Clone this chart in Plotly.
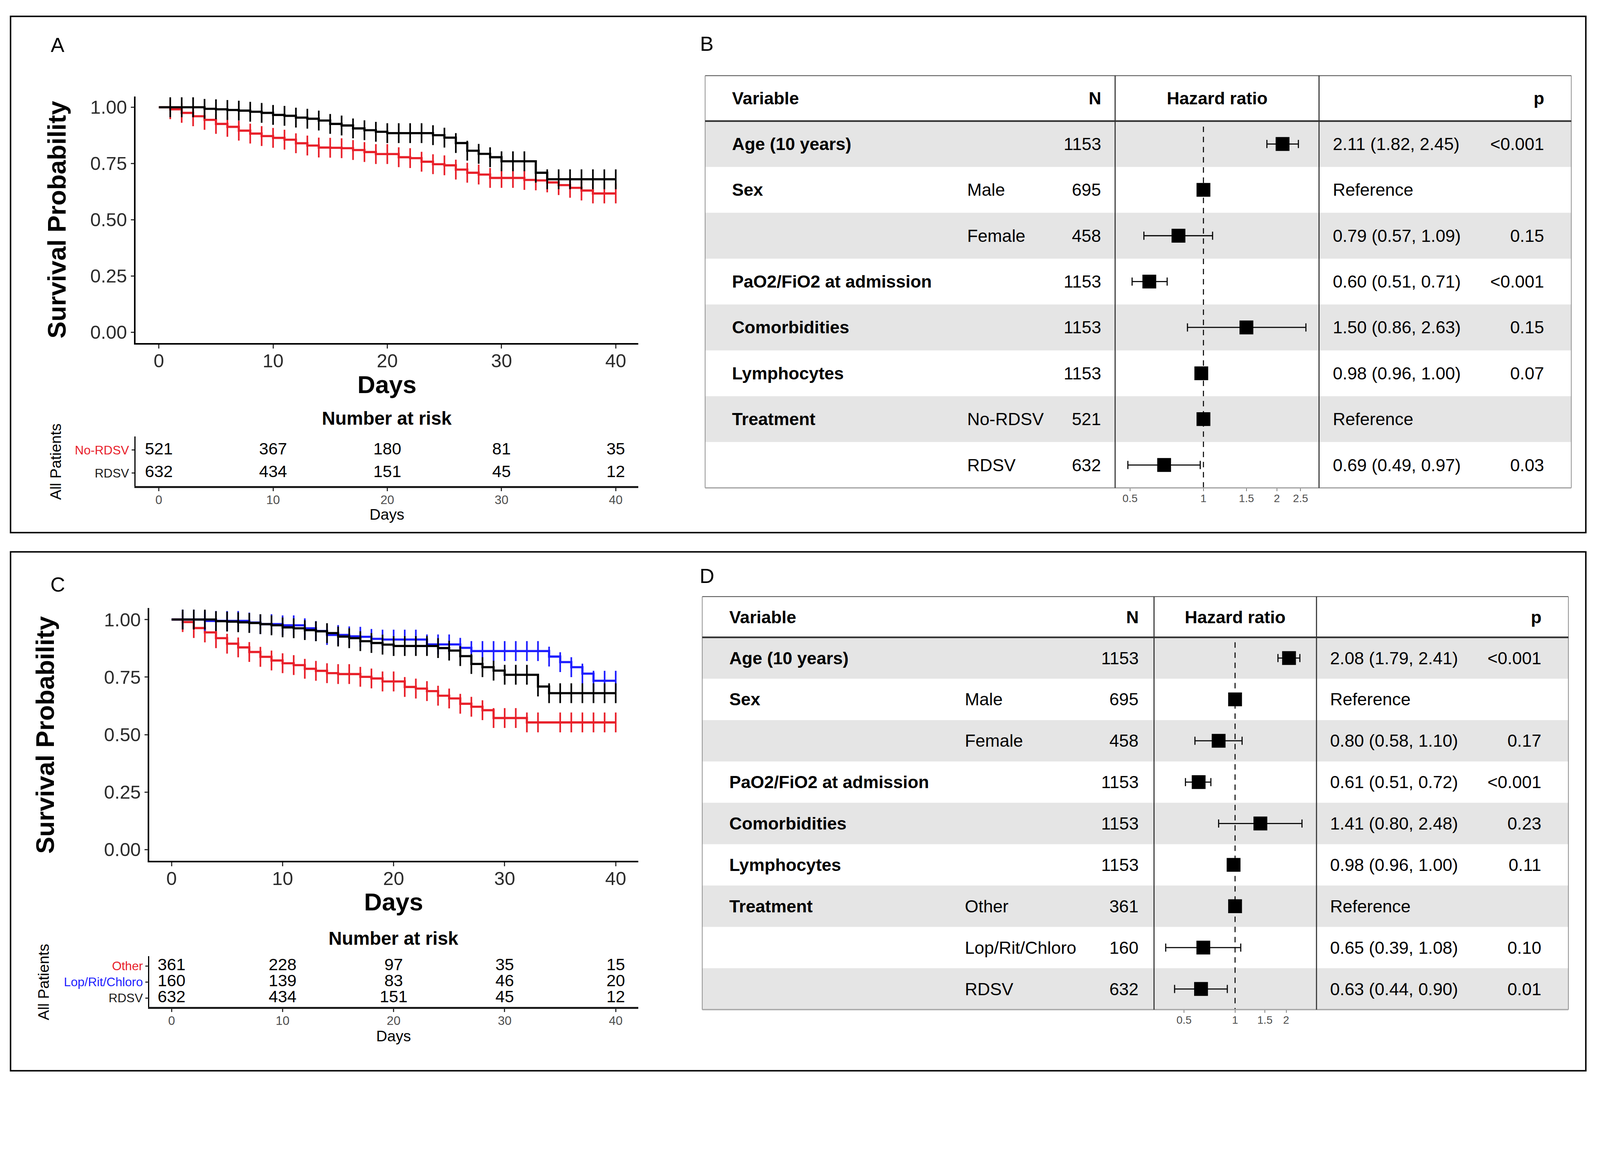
import plotly.graph_objects as go

# Picture is 4402x2979 px; the page is laid out at 4096 CSS px wide with an 8px body margin.
IMG_W, IMG_H = 4402, 2979
S = 4096 / IMG_W          # CSS px per picture px
OFF = 8                   # default body margin (CSS px)
FW, FH = 4080, 2756       # figure size in CSS px

FONT = "Liberation Sans, Arial, Helvetica, sans-serif"
RED = "#E8202A"
BLUE = "#1E1EFF"
BLACK = "#000000"

# ---------------- Kaplan-Meier data (value holding from day d to d+1) ----------------
days = [0, 1, 2, 3, 4, 5, 6, 7, 8, 9, 10, 11, 12, 13, 14, 15, 16, 17, 18, 19, 20,
        21, 22, 23, 24, 25, 26, 27, 28, 29, 30, 31, 32, 33, 34, 35, 36, 37, 38, 39, 40]

surv_rdsv = [1.000, 1.000, 1.000, 1.000, 0.993, 0.991, 0.988, 0.985, 0.980, 0.975,
             0.966, 0.962, 0.954, 0.949, 0.941, 0.926, 0.919, 0.906, 0.898, 0.891,
             0.885, 0.885, 0.885, 0.885, 0.876, 0.865, 0.841, 0.807, 0.793, 0.778,
             0.760, 0.760, 0.760, 0.709, 0.680, 0.680, 0.680, 0.680, 0.680, 0.680, 0.680]
surv_nordsv = [1.000, 0.991, 0.975, 0.960, 0.944, 0.926, 0.913, 0.896, 0.883, 0.872,
               0.864, 0.856, 0.840, 0.830, 0.821, 0.820, 0.818, 0.810, 0.801, 0.792,
               0.792, 0.778, 0.774, 0.758, 0.747, 0.742, 0.723, 0.709, 0.701, 0.686,
               0.686, 0.686, 0.677, 0.675, 0.666, 0.654, 0.642, 0.630, 0.617, 0.617, 0.617]
surv_other = [1.000, 0.989, 0.963, 0.944, 0.919, 0.895, 0.879, 0.859, 0.838, 0.822,
              0.810, 0.802, 0.786, 0.777, 0.767, 0.763, 0.763, 0.751, 0.744, 0.731,
              0.731, 0.707, 0.700, 0.689, 0.669, 0.657, 0.634, 0.621, 0.606, 0.572,
              0.572, 0.572, 0.553, 0.553, 0.553, 0.553, 0.553, 0.553, 0.553, 0.553, 0.553]
surv_lop = [1.000, 1.000, 1.000, 0.994, 0.994, 0.994, 0.994, 0.987, 0.980, 0.980,
            0.975, 0.975, 0.962, 0.950, 0.933, 0.933, 0.927, 0.925, 0.916, 0.913,
            0.913, 0.913, 0.913, 0.892, 0.892, 0.892, 0.877, 0.863, 0.863, 0.863,
            0.863, 0.863, 0.863, 0.863, 0.839, 0.815, 0.793, 0.765, 0.734, 0.734, 0.734]

censor_rdsv = [1, 2, 3, 4, 5, 6, 7, 8, 9, 10, 11, 12, 13, 14, 15, 16, 17, 18, 19, 20,
               21, 22, 23, 24, 25, 26, 27, 28, 29, 30, 31, 32, 33, 34, 35, 36, 37, 38, 39, 40]
censor_nordsv = [1, 2, 3, 4, 5, 6, 7, 8, 9, 10, 11, 12, 13, 14, 15, 16, 17, 18, 19, 20,
                 21, 22, 23, 24, 25, 26, 27, 28, 29, 30, 31, 32, 33, 34, 35, 36, 37, 38, 39, 40]
censor_other = [1, 2, 3, 4, 5, 6, 7, 8, 9, 10, 11, 12, 13, 14, 15, 16, 17, 18, 19, 20,
                21, 22, 23, 24, 25, 26, 27, 28, 29, 30, 31, 32, 33, 35, 36, 37, 38, 39, 40]
censor_lop = [1, 2, 3, 4, 5, 6, 7, 8, 9, 10, 11, 12, 13, 14, 15, 16, 17, 18, 19, 20,
              21, 22, 23, 24, 25, 26, 27, 28, 29, 30, 31, 32, 33, 34, 35, 36, 37, 38, 39, 40]

# ---------------- risk tables ----------------
risk_times = [0, 10, 20, 30, 40]
riskA_nordsv = [521, 367, 180, 81, 35]
riskA_rdsv = [632, 434, 151, 45, 12]
riskC_other = [361, 228, 97, 35, 15]
riskC_lop = [160, 139, 83, 46, 20]
riskC_rdsv = [632, 434, 151, 45, 12]
km_ticks = [0, 10, 20, 30, 40]
surv_ticks = [0, 0.25, 0.5, 0.75, 1.0]
surv_ticktext = ["0.00", "0.25", "0.50", "0.75", "1.00"]

# ---------------- forest B ----------------
fb_var = ["Age (10 years)", "Sex", "", "PaO2/FiO2 at admission", "Comorbidities",
          "Lymphocytes", "Treatment", ""]
fb_level = ["", "Male", "Female", "", "", "", "No-RDSV", "RDSV"]
fb_n = [1153, 695, 458, 1153, 1153, 1153, 521, 632]
fb_hr = [2.11, 1.00, 0.79, 0.60, 1.50, 0.98, 1.00, 0.69]
fb_lo = [1.82, None, 0.57, 0.51, 0.86, 0.96, None, 0.49]
fb_hi = [2.45, None, 1.09, 0.71, 2.63, 1.00, None, 0.97]
fb_p = ["<0.001", "", "0.15", "<0.001", "0.15", "0.07", "", "0.03"]
fb_ticks = [0.5, 1, 1.5, 2, 2.5]

# ---------------- forest D ----------------
fd_var = ["Age (10 years)", "Sex", "", "PaO2/FiO2 at admission", "Comorbidities",
          "Lymphocytes", "Treatment", "", ""]
fd_level = ["", "Male", "Female", "", "", "", "Other", "Lop/Rit/Chloro", "RDSV"]
fd_n = [1153, 695, 458, 1153, 1153, 1153, 361, 160, 632]
fd_hr = [2.08, 1.00, 0.80, 0.61, 1.41, 0.98, 1.00, 0.65, 0.63]
fd_lo = [1.79, None, 0.58, 0.51, 0.80, 0.96, None, 0.39, 0.44]
fd_hi = [2.41, None, 1.10, 0.72, 2.48, 1.00, None, 1.08, 0.90]
fd_p = ["<0.001", "", "0.17", "<0.001", "0.23", "0.11", "", "0.10", "0.01"]
fd_ticks = [0.5, 1, 1.5, 2]


def px(x):
    return (x * S - OFF) / FW


def py(y):
    return 1 - (y * S - OFF) / FH


def sz(v):
    return v * S


fig = go.Figure()
shapes = []
annotations = []


def add_text(s, x, y, size, color=BLACK, bold=False, xanchor="center", angle=0):
    annotations.append(dict(
        text=s, x=px(x), y=py(y), xref="paper", yref="paper", xanchor=xanchor,
        yanchor="middle", showarrow=False, textangle=angle,
        font=dict(family=FONT, size=sz(size), color=color, weight="bold" if bold else "normal")))


def add_rect(x0, y0, x1, y1, line_w=0, line_c=BLACK, fill="rgba(0,0,0,0)", layer="above"):
    shapes.append(dict(type="rect", xref="paper", yref="paper", layer=layer,
                       x0=px(x0), x1=px(x1), y0=py(y1), y1=py(y0),
                       line=dict(color=line_c, width=sz(line_w)), fillcolor=fill))


def add_line(x0, y0, x1, y1, color, width, layer="above"):
    shapes.append(dict(type="line", xref="paper", yref="paper", layer=layer,
                       x0=px(x0), y0=py(y0), x1=px(x1), y1=py(y1),
                       line=dict(color=color, width=sz(width))))


def km_curve(surv, censor, color, xa, ya):
    fig.add_trace(go.Scatter(x=days, y=surv, mode="lines",
                             line=dict(shape="hv", width=sz(6), color=color),
                             xaxis=xa, yaxis=ya, hoverinfo="skip"))
    fig.add_trace(go.Scatter(x=censor, y=[surv[d] for d in censor], mode="markers",
                             marker=dict(symbol="line-ns", size=sz(39), color=color,
                                         line=dict(width=sz(4.5), color=color)),
                             xaxis=xa, yaxis=ya, hoverinfo="skip"))


# outer panel boxes
add_rect(29, 45, 4363, 1465, line_w=4)
add_rect(29, 1518, 4363, 2945, line_w=4)

# ---------------- Panel A ----------------
km_curve(surv_nordsv, censor_nordsv, RED, "x", "y")
km_curve(surv_rdsv, censor_rdsv, BLACK, "x", "y")
for vals, row in ((riskA_nordsv, 2), (riskA_rdsv, 1)):
    fig.add_trace(go.Scatter(x=risk_times, y=[row] * len(risk_times), mode="text",
                             text=[str(v) for v in vals], textposition="middle center",
                             textfont=dict(family=FONT, size=sz(46), color=BLACK),
                             xaxis="x2", yaxis="y2", hoverinfo="skip"))

# ---------------- Panel C ----------------
km_curve(surv_other, censor_other, RED, "x4", "y4")
km_curve(surv_lop, censor_lop, BLUE, "x4", "y4")
km_curve(surv_rdsv, censor_rdsv, BLACK, "x4", "y4")
for vals, row in ((riskC_other, 3), (riskC_lop, 2), (riskC_rdsv, 1)):
    fig.add_trace(go.Scatter(x=risk_times, y=[row] * len(risk_times), mode="text",
                             text=[str(v) for v in vals], textposition="middle center",
                             textfont=dict(family=FONT, size=sz(46), color=BLACK),
                             xaxis="x5", yaxis="y5", hoverinfo="skip"))


# ---------------- Forest plots ----------------
def forest(var, level, n, hr, lo, hi, pv, geo, xa, ya):
    L, R, T, HB, B, S1, S2 = geo["L"], geo["R"], geo["T"], geo["HB"], geo["B"], geo["S1"], geo["S2"]
    nrow = len(var)
    rh = (B - HB) / nrow
    for i in range(nrow):
        if i % 2 == 0:
            add_rect(L, HB + i * rh, R, HB + (i + 1) * rh, fill="#E5E5E5", layer="below")
    add_line(L, T, R, T, "#5A5A5A", 2.5)
    add_line(L, T, L, B, "#8A8A8A", 2)
    add_line(R, T, R, B, "#8A8A8A", 2)
    add_line(L, B, R, B, "#A6A6A6", 3.5)
    add_line(S1, T, S1, B, "#333333", 3)
    add_line(S2, T, S2, B, "#333333", 3)
    add_line(L, HB, R, HB, "#333333", 4.5)
    hy = (T + HB) / 2
    add_text("Variable", geo["cv"], hy, 48, bold=True, xanchor="left")
    add_text("N", geo["cn"], hy, 48, bold=True, xanchor="right")
    add_text("Hazard ratio", (S1 + S2) / 2, hy, 48, bold=True)
    add_text("p", geo["cp"], hy, 48, bold=True, xanchor="right")
    for i in range(nrow):
        yc = HB + (i + 0.5) * rh
        if var[i]:
            add_text(var[i], geo["cv"], yc, 48, bold=True, xanchor="left")
        if level[i]:
            add_text(level[i], geo["cl"], yc, 48, xanchor="left")
        add_text(str(n[i]), geo["cn"], yc, 48, xanchor="right")
        est = "Reference" if lo[i] is None else f"{hr[i]:.2f} ({lo[i]:.2f}, {hi[i]:.2f})"
        add_text(est, geo["ce"], yc, 48, xanchor="left")
        if pv[i]:
            add_text(pv[i], geo["cp"], yc, 48, xanchor="right")
    rows = list(range(1, nrow + 1))
    fig.add_trace(go.Scatter(x=[1, 1], y=[0.62, nrow + 0.5], mode="lines",
                             line=dict(color=BLACK, width=sz(2.8), dash="14px,12px"),
                             xaxis=xa, yaxis=ya, hoverinfo="skip"))
    cx, cy, capx, capy = [], [], [], []
    for i in range(nrow):
        if lo[i] is not None:
            cx += [lo[i], hi[i], None]
            cy += [rows[i], rows[i], None]
            capx += [lo[i], hi[i]]
            capy += [rows[i], rows[i]]
    fig.add_trace(go.Scatter(x=cx, y=cy, mode="lines", line=dict(color=BLACK, width=sz(3)),
                             xaxis=xa, yaxis=ya, hoverinfo="skip"))
    fig.add_trace(go.Scatter(x=capx, y=capy, mode="markers",
                             marker=dict(symbol="line-ns", size=sz(16), color=BLACK,
                                         line=dict(width=sz(3), color=BLACK)),
                             xaxis=xa, yaxis=ya, hoverinfo="skip"))
    fig.add_trace(go.Scatter(x=hr, y=rows, mode="markers",
                             marker=dict(symbol="square", size=sz(38), color=BLACK, line=dict(width=0)),
                             xaxis=xa, yaxis=ya, hoverinfo="skip"))


geoB = dict(L=1940, R=4323, T=208, HB=333, B=1342, S1=3068, S2=3629,
            cv=2012, cl=2659, cn=3032, ce=3665, cp=4251)
geoD = dict(L=1932, R=4315, T=1641, HB=1753, B=2777, S1=3175, S2=3622,
            cv=2004, cl=2652, cn=3135, ce=3657, cp=4243)
forest(fb_var, fb_level, fb_n, fb_hr, fb_lo, fb_hi, fb_p, geoB, "x3", "y3")
forest(fd_var, fd_level, fd_n, fd_hr, fd_lo, fd_hi, fd_p, geoD, "x6", "y6")

# ---------------- texts ----------------
add_text("A", 159, 124, 56)
add_text("B", 1945, 120, 56)
add_text("C", 159, 1608, 56)
add_text("D", 1945, 1584, 56)

add_text("Survival Probability", 156, 604, 70, bold=True, angle=-90)
add_text("Days", 1065, 1057, 68, bold=True)
add_text("Number at risk", 1065, 1151, 51, bold=True)
add_text("All Patients", 153, 1269, 42, angle=-90)
add_text("Days", 1065, 1415, 42)

add_text("Survival Probability", 124, 2021, 70, bold=True, angle=-90)
add_text("Days", 1083, 2480, 68, bold=True)
add_text("Number at risk", 1083, 2581, 51, bold=True)
add_text("All Patients", 120, 2701, 42, angle=-90)
add_text("Days", 1083, 2850, 42)


# ---------------- axes ----------------
def km_x(domain, rng):
    return dict(domain=domain, range=rng, tickvals=km_ticks, ticks="outside", ticklen=sz(10),
                tickwidth=sz(3), tickcolor="#333333", showline=True, linewidth=sz(4),
                linecolor=BLACK, showgrid=False, zeroline=False, ticklabelstandoff=-10,
                tickfont=dict(family=FONT, size=sz(52), color="#2b2b2b"))


def km_y(domain, rng, anchor):
    return dict(domain=domain, range=rng, tickvals=surv_ticks, ticktext=surv_ticktext,
                ticks="outside", ticklen=sz(9), tickwidth=sz(3), tickcolor="#333333",
                showline=True, linewidth=sz(4), linecolor=BLACK, showgrid=False,
                zeroline=False, anchor=anchor,
                tickfont=dict(family=FONT, size=sz(52), color="#2b2b2b"))


def risk_x(domain, rng, anchor):
    return dict(domain=domain, range=rng, tickvals=km_ticks, ticks="outside", ticklen=sz(9),
                tickwidth=sz(3), tickcolor="#333333", showline=True, linewidth=sz(5),
                linecolor="#1a1a1a", showgrid=False, zeroline=False, anchor=anchor,
                ticklabelstandoff=-5,
                tickfont=dict(family=FONT, size=sz(34), color="#4d4d4d"))


def risk_y(domain, rng, anchor, vals, texts):
    return dict(domain=domain, range=rng, tickvals=vals, ticktext=texts, ticks="outside",
                ticklen=sz(8), tickwidth=sz(3), tickcolor="#333333", showline=True,
                linewidth=sz(3), linecolor=BLACK, showgrid=False, zeroline=False, anchor=anchor,
                tickfont=dict(family=FONT, size=sz(34), color="#1a1a1a"))


def forest_x(domain, rng, anchor, ticks):
    return dict(domain=domain, type="log", range=rng, tickvals=ticks,
                ticktext=[str(t) for t in ticks], ticks="outside", ticklen=sz(8),
                tickwidth=sz(2.5), tickcolor="#7f7f7f", showline=False, showgrid=False,
                zeroline=False, anchor=anchor, ticklabelstandoff=-6,
                tickfont=dict(family=FONT, size=sz(30), color="#4d4d4d"))


def forest_y(domain, rng, anchor):
    return dict(domain=domain, range=rng, visible=False, anchor=anchor)


fig.update_layout(
    width=FW, height=FH, margin=dict(l=0, r=0, t=0, b=0, pad=0), showlegend=False,
    paper_bgcolor="white", plot_bgcolor="rgba(0,0,0,0)",
    font=dict(family=FONT, color=BLACK),
    xaxis=km_x([px(373), px(1756)], [-2.037, 41.97]),
    yaxis=km_y([py(944), py(265)], [-0.0485, 1.0485], "x"),
    xaxis2=risk_x([px(373), px(1756)], [-2.037, 41.97], "y2"),
    yaxis2=risk_y([py(1337), py(1200)], [0.429, 2.603], "x2", [2, 1],
                  [f'<span style="color:{RED}">No-RDSV</span>', "RDSV"]),
    xaxis3=forest_x([px(3068), px(3629)], [-0.3620, 0.4738], "y3", fb_ticks),
    yaxis3=forest_y([py(1342), py(333)], [8.5, 0.5], "x3"),
    xaxis4=km_x([px(411), px(1756)], [-1.997, 42.03]),
    yaxis4=km_y([py(2368), py(1672)], [-0.049, 1.0506], "x4"),
    xaxis5=risk_x([px(411), px(1756)], [-1.997, 42.03], "y5"),
    yaxis5=risk_y([py(2769), py(2630)], [0.4545, 3.614], "x5", [3, 2, 1],
                  [f'<span style="color:{RED}">Other</span>',
                   f'<span style="color:{BLUE}">Lop/Rit/Chloro</span>', "RDSV"]),
    xaxis6=forest_x([px(3175), px(3622)], [-0.4778, 0.4800], "y6", fd_ticks),
    yaxis6=forest_y([py(2777), py(1753)], [9.5, 0.5], "x6"),
    shapes=shapes, annotations=annotations,
)
fig.layout.xaxis.anchor = "y"
fig.layout.xaxis4.anchor = "y4"

fig.write_html("out.html")
